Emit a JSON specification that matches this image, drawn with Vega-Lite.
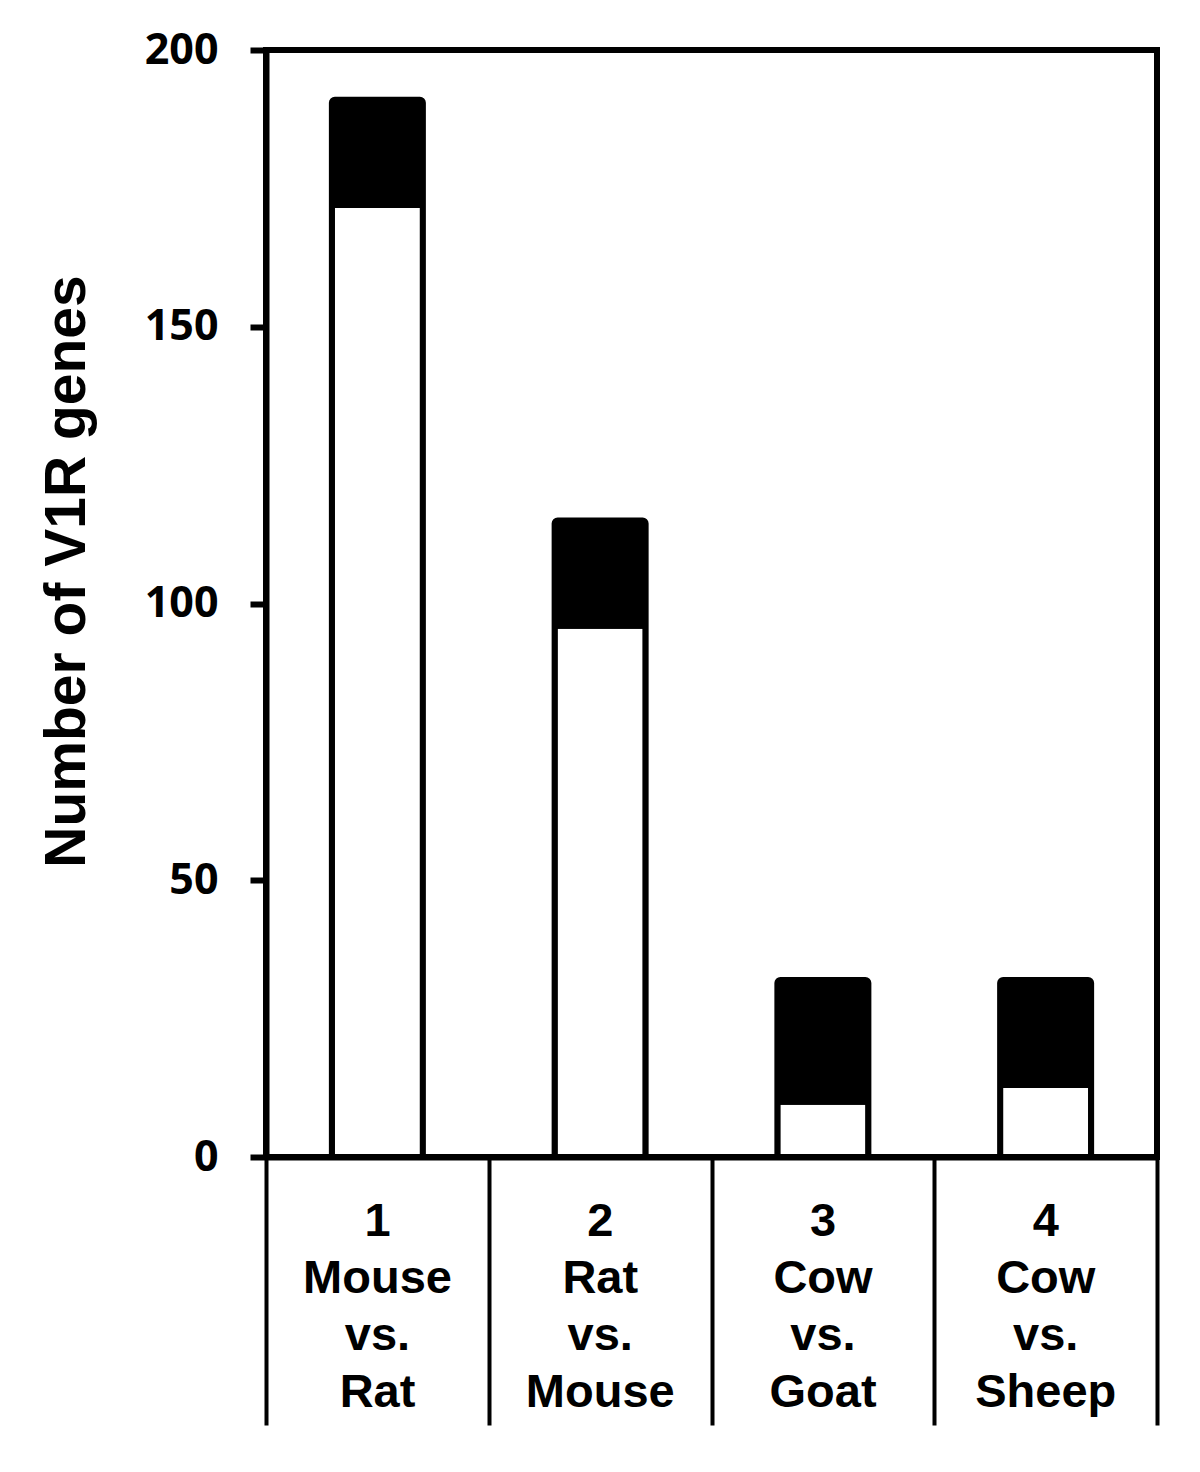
{
  "$schema": "https://vega.github.io/schema/vega-lite/v6.json",
  "autosize": "none",
  "width": 891,
  "height": 1107,
  "padding": {"left": 266, "top": 50, "right": 43, "bottom": 315},
  "background": "white",
  "config": {
    "view": {"stroke": "black", "strokeWidth": 6},
    "axis": {"domainColor": "black", "tickColor": "black", "labelColor": "black", "titleColor": "black", "grid": false}
  },
  "data": {
    "values": [
      {"pair": 1, "segment": "white", "genes": 172},
      {"pair": 1, "segment": "black", "genes": 19},
      {"pair": 2, "segment": "white", "genes": 96},
      {"pair": 2, "segment": "black", "genes": 19},
      {"pair": 3, "segment": "white", "genes": 10},
      {"pair": 3, "segment": "black", "genes": 22},
      {"pair": 4, "segment": "white", "genes": 13},
      {"pair": 4, "segment": "black", "genes": 19}
    ]
  },
  "mark": {"type": "bar", "width": 91, "stroke": "black", "strokeWidth": 6, "cornerRadius": 3, "strokeJoin": "round"},
  "encoding": {
    "x": {
      "field": "pair",
      "type": "quantitative",
      "scale": {"domain": [0.5, 4.5], "nice": false, "zero": false, "padding": 0},
      "axis": {
        "title": null,
        "values": [0.5, 1.5, 2.5, 3.5, 4.5],
        "domainWidth": 6,
        "tickWidth": 4,
        "tickSize": 268,
        "labelPadding": -190,
        "labelOffset": 111,
        "labelAlign": "center",
        "labelBaseline": "alphabetic",
        "labelFont": "Liberation Sans",
        "labelFontWeight": "bold",
        "labelFontSize": 47,
        "labelLineHeight": 57,
        "labelOverlap": false,
        "labelFlush": false,
        "labelBound": false,
        "labelExpr": "datum.value == 0.5 ? ['1', 'Mouse', 'vs.', 'Rat'] : datum.value == 1.5 ? ['2', 'Rat', 'vs.', 'Mouse'] : datum.value == 2.5 ? ['3', 'Cow', 'vs.', 'Goat'] : datum.value == 3.5 ? ['4', 'Cow', 'vs.', 'Sheep'] : ''"
      }
    },
    "y": {
      "field": "genes",
      "type": "quantitative",
      "stack": "zero",
      "scale": {"domain": [0, 200], "nice": false},
      "axis": {
        "title": "Number of V1R genes",
        "values": [0, 50, 100, 150, 200],
        "domainWidth": 6,
        "tickWidth": 6,
        "tickSize": 16,
        "labelPadding": 32,
        "labelFont": "Open Sans",
        "labelFontWeight": "bold",
        "labelFontSize": 43,
        "labelBaseline": "middle",
        "labelFlush": false,
        "labelOverlap": false,
        "titleFont": "Liberation Sans",
        "titleFontWeight": "bold",
        "titleFontSize": 57,
        "titleAngle": -90,
        "titleAlign": "center",
        "titleBaseline": "alphabetic",
        "titleX": -182,
        "titleY": 521
      }
    },
    "color": {
      "field": "segment",
      "type": "nominal",
      "scale": {"domain": ["white", "black"], "range": ["#ffffff", "#000000"]},
      "legend": null
    },
    "order": {"field": "segment", "sort": "descending"}
  }
}
